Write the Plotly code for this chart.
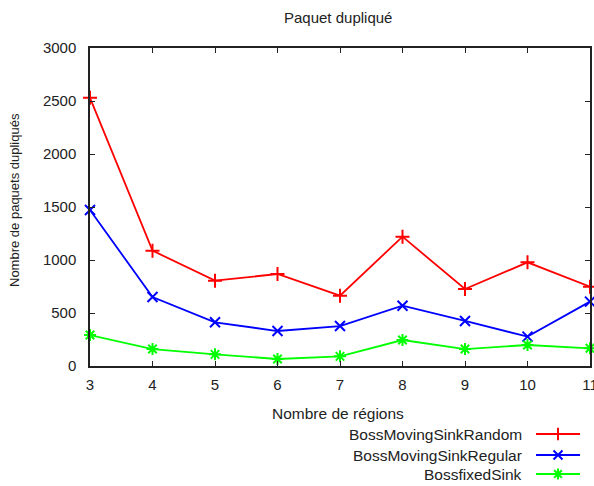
import plotly.graph_objects as go

regions = [3, 4, 5, 6, 7, 8, 9, 10, 11]
random_sink = [2530, 1088, 805, 868, 663, 1220, 726, 978, 748]
regular_sink = [1472, 651, 412, 330, 377, 569, 425, 277, 607]
fixed_sink = [292, 160, 110, 66, 91, 245, 160, 198, 167]

series_names = ["BossMovingSinkRandom", "BossMovingSinkRegular", "BossfixedSink"]
series_values = [random_sink, regular_sink, fixed_sink]
series_colors = ["#ff0000", "#0000ff", "#00ff00"]
series_symbols = ["cross-thin", "x-thin", "asterisk"]
y_ticks = [0, 500, 1000, 1500, 2000, 2500, 3000]

SW, SH = 594, 486          # screen (window) size
W, H = SW, SH              # figure size
# plot area in screen pixels
PL, PR, PT, PB = 90, 590, 48, 366

FONT = "Liberation Sans, Arial, sans-serif"
TXT = "#222222"

fig = go.Figure()
for name, vals, col, sym in zip(series_names, series_values, series_colors, series_symbols):
    fig.add_trace(go.Scatter(
        x=regions, y=vals, mode="lines+markers", name=name,
        line=dict(color=col, width=1.8),
        marker=dict(symbol=sym, size=10, color=col, line=dict(color=col, width=2)),
        showlegend=False, xaxis="x", yaxis="y", cliponaxis=False))

# custom legend (gnuplot style: text left, sample right), in screen-pixel overlay axes
leg_y = [434, 455, 474]
for i, (name, col, sym) in enumerate(zip(series_names, series_colors, series_symbols)):
    fig.add_trace(go.Scatter(
        x=[536, 558, 580], y=[leg_y[i]] * 3, mode="lines",
        line=dict(color=col, width=1.8), showlegend=False, hoverinfo="skip",
        xaxis="x2", yaxis="y2"))
    fig.add_trace(go.Scatter(
        x=[558], y=[leg_y[i]], mode="markers",
        marker=dict(symbol=sym, size=9, color=col, line=dict(color=col, width=2)),
        showlegend=False, hoverinfo="skip", xaxis="x2", yaxis="y2"))
    fig.add_annotation(x=524, y=leg_y[i], xref="x2", yref="y2", text=name,
                       showarrow=False, xanchor="right", yanchor="middle",
                       font=dict(family=FONT, size=15.5, color=TXT))

fig.add_annotation(x=338, y=413, xref="x2", yref="y2", text="Nombre de régions",
                   showarrow=False, xanchor="center", yanchor="middle",
                   font=dict(family=FONT, size=15.5, color=TXT))
fig.add_annotation(x=14, y=200, xref="x2", yref="y2", text="Nombre de paquets dupliqués",
                   showarrow=False, textangle=-90, xanchor="center", yanchor="middle",
                   font=dict(family=FONT, size=13, color=TXT))
fig.add_annotation(x=338, y=17, xref="x2", yref="y2", text="Paquet dupliqué",
                   showarrow=False, xanchor="center", yanchor="middle",
                   font=dict(family=FONT, size=15, color=TXT))

axis_common = dict(showline=True, linecolor="#222222", linewidth=1.5, mirror="allticks",
                   ticks="inside", ticklen=5, tickcolor="#222222", tickwidth=1.2,
                   showgrid=False, zeroline=False, automargin=False,
                   ticklabeloverflow="allow",
                   tickfont=dict(family=FONT, size=15, color=TXT))

fig.update_layout(
    template="none",
    width=W, height=H,
    margin=dict(l=0, r=0, t=0, b=0, pad=0, autoexpand=False),
    paper_bgcolor="white", plot_bgcolor="rgba(0,0,0,0)",
    xaxis=dict(range=[3, 11], tickvals=regions,
               domain=[PL / W, PR / W], anchor="y",
               ticklabelstandoff=4, **axis_common),
    yaxis=dict(range=[0, 3000], tickvals=y_ticks,
               domain=[1 - PB / H, 1 - PT / H], anchor="x",
               ticklabelstandoff=9, **axis_common),
    xaxis2=dict(range=[0, SW], domain=[0, 1], visible=False, anchor="y2",
                fixedrange=True, automargin=False),
    yaxis2=dict(range=[SH, 0], domain=[0, 1], visible=False, anchor="x2",
                fixedrange=True, automargin=False),
)

fig.write_html(
    "out.html",
    config={"displayModeBar": False},
    post_script="document.body.style.margin='0';document.body.style.overflow='hidden';",
)
